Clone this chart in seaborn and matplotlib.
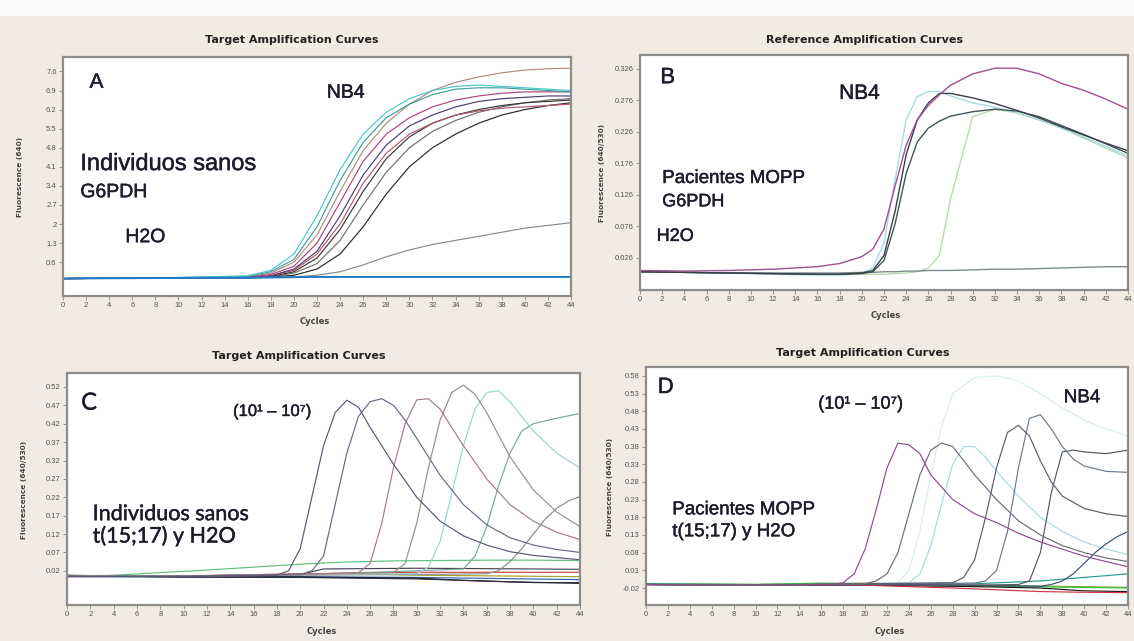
import numpy as np
import pandas as pd
import matplotlib.pyplot as plt
import matplotlib.patheffects as pe
from matplotlib.patches import Rectangle
import seaborn as sns

sns.set_style("ticks")
plt.rcParams['font.family'] = ['Liberation Sans', 'DejaVu Sans']

W, H = 1134, 641

# -----------------------------------------------------------------
# PANEL A  (Target, G6PDH, healthy individuals) - shared cycle grid
# -----------------------------------------------------------------
a_cyc = [0, 8, 16, 18, 20, 22, 24, 26, 28, 30, 32, 34, 36, 38, 40, 42, 44]
a_cyan = [0.0, 0.02, 0.1, 0.3, 0.9, 2.3, 4.0, 5.3, 6.1, 6.6, 6.9, 7.05, 7.1, 7.05, 7.0, 6.95, 6.9]
a_teal = [0.0, 0.02, 0.08, 0.25, 0.7, 1.9, 3.6, 5.0, 5.9, 6.4, 6.75, 6.95, 7.0, 7.0, 6.95, 6.9, 6.85]
a_tan = [0.0, 0.02, 0.06, 0.2, 0.6, 1.6, 3.2, 4.7, 5.7, 6.4, 6.9, 7.2, 7.4, 7.55, 7.65, 7.7, 7.72]
a_magenta = [0.0, 0.02, 0.05, 0.15, 0.45, 1.3, 2.8, 4.3, 5.3, 5.9, 6.3, 6.55, 6.7, 6.8, 6.85, 6.85, 6.85]
a_purple = [0.0, 0.02, 0.04, 0.1, 0.35, 1.0, 2.3, 3.8, 4.9, 5.6, 6.0, 6.3, 6.5, 6.6, 6.65, 6.7, 6.7]
a_red = [0.0, 0.02, 0.04, 0.1, 0.3, 0.9, 2.0, 3.5, 4.6, 5.3, 5.7, 6.0, 6.15, 6.25, 6.3, 6.35, 6.4]
a_black1 = [0.0, 0.02, 0.03, 0.08, 0.25, 0.75, 1.8, 3.2, 4.4, 5.2, 5.7, 6.0, 6.2, 6.35, 6.45, 6.5, 6.55]
a_gray = [0.0, 0.02, 0.03, 0.06, 0.2, 0.55, 1.4, 2.7, 3.9, 4.8, 5.4, 5.8, 6.1, 6.3, 6.45, 6.55, 6.6]
a_black2 = [0.0, 0.02, 0.03, 0.05, 0.12, 0.35, 0.9, 1.9, 3.1, 4.1, 4.8, 5.3, 5.7, 6.0, 6.2, 6.35, 6.45]
a_low = [0.0, 0.02, 0.03, 0.04, 0.06, 0.12, 0.25, 0.5, 0.8, 1.05, 1.25, 1.4, 1.55, 1.7, 1.85, 1.95, 2.05]
a_h2o = [0.0, 0.02, 0.03, 0.04, 0.05, 0.06, 0.06, 0.06, 0.06, 0.06, 0.06, 0.06, 0.06, 0.06, 0.06, 0.06, 0.06]
a_yticks = [0.6, 1.3, 2.0, 2.7, 3.4, 4.1, 4.8, 5.5, 6.2, 6.9, 7.6]
a_ylabels = ['0.6', '1.3', '2', '2.7', '3.4', '4.1', '4.8', '5.5', '6.2', '6.9', '7.6']

# -----------------------------------------------------------------
# PANEL B  (Reference, G6PDH, MOPP patients) - shared cycle grid
# -----------------------------------------------------------------
b_cyc = [0, 4, 8, 12, 16, 18, 20, 21, 22, 23, 24, 25, 26, 27, 28, 30, 32, 34, 36, 38, 40, 42, 44]
b_magenta = [0.006, 0.005, 0.006, 0.008, 0.012, 0.017, 0.028, 0.040, 0.072, 0.14, 0.205, 0.245, 0.268,
             0.285, 0.300, 0.318, 0.327, 0.327, 0.318, 0.303, 0.292, 0.278, 0.262]
b_dark1 = [0.004, 0.003, 0.002, 0.001, 0.0, 0.0, 0.002, 0.006, 0.03, 0.10, 0.19, 0.245, 0.272,
           0.287, 0.287, 0.280, 0.271, 0.260, 0.248, 0.234, 0.221, 0.208, 0.196]
b_dark2 = [0.004, 0.003, 0.002, 0.001, 0.0, 0.0, 0.001, 0.004, 0.022, 0.08, 0.16, 0.21, 0.232,
           0.243, 0.251, 0.258, 0.262, 0.259, 0.25, 0.236, 0.222, 0.207, 0.192]
b_cyan = [0.004, 0.003, 0.002, 0.0, -0.001, -0.001, 0.002, 0.01, 0.05, 0.15, 0.245, 0.282, 0.29,
          0.29, 0.283, 0.272, 0.265, 0.256, 0.245, 0.232, 0.218, 0.203, 0.188]
b_green = [0.004, 0.003, 0.002, 0.0, -0.001, -0.001, 0.0, 0.0, 0.0, 0.001, 0.002, 0.004, 0.01,
           0.03, 0.12, 0.25, 0.262, 0.256, 0.245, 0.232, 0.216, 0.2, 0.185]
b_h2o = [0.004, 0.003, 0.002, 0.002, 0.002, 0.002, 0.003, 0.003, 0.004, 0.004, 0.005, 0.005, 0.006,
         0.006, 0.006, 0.007, 0.008, 0.008, 0.009, 0.01, 0.011, 0.012, 0.012]
b_yticks = [0.026, 0.076, 0.126, 0.176, 0.226, 0.276, 0.326]
b_ylabels = ['0.026', '0.076', '0.126', '0.176', '0.226', '0.276', '0.326']

# -----------------------------------------------------------------
# PANEL C  (Target, t(15;17), healthy individuals) - own x per curve
# -----------------------------------------------------------------
c1_x = [0, 10, 18, 19, 20, 21, 22, 23, 24, 25, 26, 28, 30, 32, 34, 36, 38, 40, 42, 44]
c1_y = [0.005, 0.004, 0.008, 0.02, 0.08, 0.22, 0.36, 0.45, 0.484, 0.465, 0.41, 0.31, 0.22, 0.155,
        0.115, 0.09, 0.072, 0.062, 0.056, 0.05]
c2_x = [0, 10, 20, 21, 22, 23, 24, 25, 26, 27, 28, 29, 30, 32, 34, 36, 38, 40, 42, 44]
c2_y = [0.005, 0.006, 0.01, 0.02, 0.06, 0.2, 0.34, 0.44, 0.48, 0.488, 0.47, 0.43, 0.38, 0.28, 0.2,
        0.145, 0.11, 0.09, 0.078, 0.07]
c3_x = [0, 10, 20, 25, 26, 27, 28, 29, 30, 31, 32, 33, 34, 36, 38, 40, 42, 44]
c3_y = [0.005, 0.006, 0.01, 0.015, 0.04, 0.15, 0.3, 0.42, 0.485, 0.488, 0.46, 0.41, 0.36, 0.27, 0.2,
        0.155, 0.125, 0.105]
c4_x = [0, 10, 20, 28, 29, 30, 31, 32, 33, 34, 35, 36, 37, 38, 40, 42, 44]
c4_y = [0.005, 0.006, 0.01, 0.015, 0.04, 0.15, 0.3, 0.43, 0.505, 0.525, 0.5, 0.45, 0.39, 0.33, 0.24,
        0.18, 0.14]
c5_x = [0, 10, 20, 30, 31, 32, 33, 34, 35, 36, 37, 38, 39, 40, 42, 44]
c5_y = [0.005, 0.006, 0.01, 0.012, 0.03, 0.1, 0.23, 0.36, 0.46, 0.505, 0.51, 0.48, 0.44, 0.4, 0.34, 0.3]
c6_x = [0, 10, 20, 30, 34, 35, 36, 37, 38, 39, 40, 42, 44]
c6_y = [0.005, 0.006, 0.01, 0.02, 0.025, 0.06, 0.14, 0.25, 0.34, 0.4, 0.42, 0.435, 0.448]
c7_x = [0, 10, 20, 30, 36, 37, 38, 39, 40, 41, 42, 43, 44]
c7_y = [0.005, 0.005, 0.008, 0.01, 0.012, 0.02, 0.045, 0.08, 0.12, 0.16, 0.19, 0.21, 0.222]
c8_x = [0, 4, 8, 12, 16, 20, 24, 28, 32, 36, 40, 44]
c8_y = [0.005, 0.008, 0.015, 0.022, 0.03, 0.038, 0.044, 0.047, 0.048, 0.049, 0.049, 0.048]
c9_x = [0, 10, 20, 22, 30, 40, 44]
c9_y = [0.005, 0.005, 0.01, 0.025, 0.027, 0.025, 0.024]
c10_x = [0, 10, 20, 30, 44]
c10_y = [0.004, 0.006, 0.012, 0.016, 0.016]
c11_x = [0, 10, 20, 30, 36, 40, 44]
c11_y = [0.008, 0.003, 0.002, -0.002, -0.008, -0.012, -0.012]
c12_x = [0, 10, 20, 30, 34, 38, 44]
c12_y = [0.006, 0.004, 0.003, 0.0, -0.006, -0.01, -0.014]
c13_x = [0, 10, 20, 30, 44]
c13_y = [0.004, 0.003, 0.004, 0.002, -0.004]
c14_x = [0, 10, 18, 24, 30, 44]
c14_y = [0.005, 0.006, 0.01, 0.012, 0.008, 0.004]
c_yticks = [0.02, 0.07, 0.12, 0.17, 0.22, 0.27, 0.32, 0.37, 0.42, 0.47, 0.52]
c_ylabels = ['0.02', '0.07', '0.12', '0.17', '0.22', '0.27', '0.32', '0.37', '0.42', '0.47', '0.52']

# -----------------------------------------------------------------
# PANEL D  (Target, t(15;17), MOPP patients) - own x per curve
# -----------------------------------------------------------------
d1_x = [0, 10, 17, 18, 19, 20, 21, 22, 23, 24, 25, 26, 28, 30, 32, 34, 36, 38, 40, 42, 44]
d1_y = [-0.01, -0.012, -0.01, -0.005, 0.02, 0.09, 0.2, 0.32, 0.39, 0.385, 0.36, 0.3, 0.23, 0.19,
        0.165, 0.135, 0.11, 0.09, 0.07, 0.055, 0.04]
d2_x = [0, 10, 20, 21, 22, 23, 24, 25, 26, 27, 28, 29, 30, 32, 34, 36, 38, 40, 42, 44]
d2_y = [-0.01, -0.012, -0.008, 0.0, 0.02, 0.08, 0.19, 0.3, 0.37, 0.39, 0.38, 0.34, 0.3, 0.23, 0.17,
        0.13, 0.1, 0.08, 0.065, 0.055]
d3_x = [0, 10, 20, 24, 25, 26, 27, 28, 29, 30, 31, 32, 34, 36, 38, 40, 42, 44]
d3_y = [-0.01, -0.012, -0.008, -0.005, 0.02, 0.1, 0.22, 0.33, 0.38, 0.38, 0.35, 0.31, 0.24, 0.18,
        0.14, 0.11, 0.09, 0.075]
d4_x = [0, 10, 20, 28, 29, 30, 31, 32, 33, 34, 35, 36, 37, 38, 40, 42, 44]
d4_y = [-0.01, -0.012, -0.008, -0.005, 0.01, 0.06, 0.18, 0.32, 0.42, 0.44, 0.41, 0.34, 0.28, 0.24,
        0.205, 0.19, 0.182]
d5_x = [0, 10, 20, 30, 31, 32, 33, 34, 35, 36, 37, 38, 39, 40, 42, 44]
d5_y = [-0.01, -0.012, -0.008, -0.006, 0.0, 0.03, 0.14, 0.32, 0.46, 0.47, 0.43, 0.38, 0.345, 0.325,
        0.31, 0.307]
d6_x = [0, 10, 20, 30, 34, 35, 36, 37, 38, 39, 40, 42, 44]
d6_y = [-0.01, -0.012, -0.01, -0.012, -0.01, 0.0, 0.08, 0.25, 0.365, 0.37, 0.365, 0.36, 0.37]
d7_x = [0, 10, 20, 30, 36, 37, 38, 39, 40, 41, 42, 43, 44]
d7_y = [-0.01, -0.012, -0.01, -0.012, -0.015, -0.01, 0.0, 0.02, 0.05, 0.08, 0.105, 0.125, 0.14]
d8_x = [0, 10, 20, 23, 24, 25, 26, 27, 28, 30, 32, 34, 36, 38, 40, 42, 44]
d8_y = [-0.01, -0.012, -0.008, -0.005, 0.03, 0.14, 0.3, 0.44, 0.53, 0.575, 0.58, 0.565, 0.53, 0.49,
        0.455, 0.43, 0.41]
d10_x = [0, 10, 20, 30, 36, 40, 44]
d10_y = [-0.008, -0.01, -0.008, -0.008, 0.0, 0.01, 0.02]
d11_x = [0, 10, 20, 28, 32, 36, 40, 44]
d11_y = [-0.01, -0.011, -0.012, -0.02, -0.025, -0.03, -0.032, -0.033]
d12_x = [0, 10, 20, 30, 36, 40, 44]
d12_y = [-0.01, -0.012, -0.012, -0.016, -0.02, -0.028, -0.03]
d13_x = [0, 10, 16, 20, 24, 28, 32, 44]
d13_y = [-0.008, -0.01, -0.006, -0.008, -0.01, -0.012, -0.015, -0.02]
d14_x = [0, 10, 20, 30, 44]
d14_y = [-0.009, -0.01, -0.006, -0.012, -0.018]
d_yticks = [-0.02, 0.03, 0.08, 0.13, 0.18, 0.23, 0.28, 0.33, 0.38, 0.43, 0.48, 0.53, 0.58]
d_ylabels = ['-0.02', '0.03', '0.08', '0.13', '0.18', '0.23', '0.28', '0.33', '0.38', '0.43', '0.48',
             '0.53', '0.58']

x_ticks = list(range(0, 45, 2))


# -----------------------------------------------------------------
# helpers
# -----------------------------------------------------------------
def fx(px):
    return px / W


def fy(py):
    return 1 - py / H


def add_ax(left, top, right, bottom):
    return fig.add_axes([fx(left), fy(bottom), (right - left) / W, (bottom - top) / H])


def draw_curves(ax, curves, colors, lw=0.85):
    df = pd.concat([pd.DataFrame({'cycle': x, 'fl': y, 'curve': name})
                    for name, (x, y) in curves.items()], ignore_index=True)
    sns.lineplot(data=df, x='cycle', y='fl', hue='curve', palette=colors, estimator=None,
                 sort=False, legend=False, lw=lw, ax=ax)


def style_ax(ax, ylim, yticks, ylabels):
    ax.set_facecolor('white')
    ax.set_xlim(0, 44)
    ax.set_ylim(*ylim)
    ax.set_xticks(x_ticks)
    ax.set_xticklabels([str(t) for t in x_ticks])
    ax.set_yticks(yticks)
    ax.set_yticklabels(ylabels)
    ax.tick_params(length=3, width=0.6, color='#8a8a8a', labelsize=5.5, labelcolor='#555555', pad=1.5)
    for s in ax.spines.values():
        s.set_color('#8c8c8c')
        s.set_linewidth(1.6)
    ax.set_xlabel('')
    ax.set_ylabel('')


def frame_text(x, y, s, **kw):
    fig.text(fx(x), fy(y), s, ha='center', va='center', **kw)


fig = plt.figure(figsize=(W / 100, H / 100), dpi=100)
fig.patch.set_facecolor('#f2ebe4')
fig.add_artist(Rectangle((0, fy(15)), 1, 15 / H, transform=fig.transFigure,
                         color='#fbfaf8', zorder=0))

# scanned labels look a touch heavier than plain regular weight
thick = [pe.withStroke(linewidth=0.3, foreground='#1c1c2c')]
title_kw = dict(fontsize=8, fontweight='bold', color='#222222', family=['DejaVu Sans'])
cyc_kw = dict(fontsize=6, fontweight='bold', color='#444444', family=['DejaVu Sans'])
ylab_kw = dict(fontsize=5.3, fontweight='bold', color='#444444', rotation=90, family=['DejaVu Sans'])
ann = dict(color='#1c1c2c', family=['Liberation Sans', 'DejaVu Sans'], path_effects=thick)
ann_c = dict(color='#1c1c2c', family=['Lato', 'DejaVu Sans'], path_effects=thick)

# ---------------- A ----------------
axA = add_ax(63, 57, 571, 296)
draw_curves(axA, {
    'tan': (a_cyc, a_tan), 'gray': (a_cyc, a_gray), 'black2': (a_cyc, a_black2),
    'black1': (a_cyc, a_black1), 'red': (a_cyc, a_red), 'purple': (a_cyc, a_purple),
    'magenta': (a_cyc, a_magenta), 'teal': (a_cyc, a_teal), 'cyan': (a_cyc, a_cyan),
    'low': (a_cyc, a_low),
}, {'tan': '#b48a7c', 'gray': '#707070', 'black2': '#2a2a2a', 'black1': '#383838',
    'red': '#b8566a', 'purple': '#4d3d6e', 'magenta': '#b0407c', 'teal': '#3f9fa0',
    'cyan': '#45c8cc', 'low': '#8a8a90'})
draw_curves(axA, {'h2o': (a_cyc, a_h2o)}, {'h2o': '#1f7ac8'}, lw=1.4)
style_ax(axA, (-0.64, 8.13), a_yticks, a_ylabels)
axA.text(2.9, 7.2, 'A', fontsize=15, ha='center', va='center', **ann)
axA.text(24.5, 6.8, 'NB4', fontsize=14, ha='center', va='center', **ann)
axA.text(1.5, 4.2, 'Individuos sanos', fontsize=17, ha='left', va='center', **ann)
axA.text(1.5, 3.15, 'G6PDH', fontsize=14, ha='left', va='center', **ann)
axA.text(5.4, 1.5, 'H2O', fontsize=14, ha='left', va='center', **ann)
frame_text(292, 40, 'Target Amplification Curves', **title_kw)
frame_text(315, 322, 'Cycles', **cyc_kw)
frame_text(20, 177, 'Fluorescence (640)', **ylab_kw)

# ---------------- B ----------------
axB = add_ax(640, 55, 1128, 290)
draw_curves(axB, {
    'green': (b_cyc, b_green), 'cyan': (b_cyc, b_cyan), 'h2o': (b_cyc, b_h2o),
    'dark2': (b_cyc, b_dark2), 'dark1': (b_cyc, b_dark1), 'magenta': (b_cyc, b_magenta),
}, {'green': '#b9dbb2', 'cyan': '#a6dde0', 'h2o': '#7d8a8a', 'dark2': '#405656',
    'dark1': '#3a4048', 'magenta': '#a0508e'}, lw=1.0)
style_ax(axB, (-0.025, 0.348), b_yticks, b_ylabels)
axB.text(2.5, 0.312, 'B', fontsize=16, ha='center', va='center', **ann)
axB.text(19.8, 0.287, 'NB4', fontsize=15, ha='center', va='center', **ann)
axB.text(2.0, 0.152, 'Pacientes MOPP', fontsize=13.5, ha='left', va='center', **ann)
axB.text(2.0, 0.115, 'G6PDH', fontsize=13, ha='left', va='center', **ann)
axB.text(1.5, 0.06, 'H2O', fontsize=13, ha='left', va='center', **ann)
frame_text(864, 40, 'Reference Amplification Curves', **title_kw)
frame_text(886, 315, 'Cycles', **cyc_kw)
frame_text(602, 173, 'Fluorescence (640/530)', **ylab_kw)

# ---------------- C ----------------
axC = add_ax(67, 373, 580, 605)
draw_curves(axC, {
    'c14': (c14_x, c14_y), 'c13': (c13_x, c13_y), 'c12': (c12_x, c12_y), 'c11': (c11_x, c11_y),
    'c10': (c10_x, c10_y), 'c9': (c9_x, c9_y), 'c8': (c8_x, c8_y), 'c7': (c7_x, c7_y),
    'c6': (c6_x, c6_y), 'c5': (c5_x, c5_y), 'c4': (c4_x, c4_y), 'c3': (c3_x, c3_y),
    'c2': (c2_x, c2_y), 'c1': (c1_x, c1_y),
}, {'c14': '#a6a232', 'c13': '#3262b4', 'c12': '#151515', 'c11': '#2c2c40', 'c10': '#c24444',
    'c9': '#454556', 'c8': '#5cc27c', 'c7': '#8c8c8c', 'c6': '#7ea2a2', 'c5': '#9cd2d0',
    'c4': '#9c8e84', 'c3': '#a47c8c', 'c2': '#6e6886', 'c1': '#5c5670'})
style_ax(axC, (-0.073, 0.558), c_yticks, c_ylabels)
axC.text(1.9, 0.476, 'C', fontsize=17, ha='center', va='center', **ann_c)
axC.text(17.6, 0.454, '(10¹ – 10⁷)', fontsize=12, ha='center', va='center', **ann)
axC.text(2.2, 0.174, 'Individuos sanos', fontsize=15.5, ha='left', va='center', **ann_c)
axC.text(2.2, 0.114, 't(15;17) y H2O', fontsize=15.5, ha='left', va='center', **ann_c)
frame_text(299, 356, 'Target Amplification Curves', **title_kw)
frame_text(322, 632, 'Cycles', **cyc_kw)
frame_text(24, 490, 'Fluorescence (640/530)', **ylab_kw)

# ---------------- D ----------------
axD = add_ax(646, 367, 1128, 605)
draw_curves(axD, {
    'd8': (d8_x, d8_y), 'd3': (d3_x, d3_y), 'd14': (d14_x, d14_y), 'd13': (d13_x, d13_y),
    'd12': (d12_x, d12_y), 'd11': (d11_x, d11_y), 'd10': (d10_x, d10_y), 'd7': (d7_x, d7_y),
    'd6': (d6_x, d6_y), 'd5': (d5_x, d5_y), 'd4': (d4_x, d4_y), 'd2': (d2_x, d2_y),
    'd1': (d1_x, d1_y),
}, {'d8': '#d6eef0', 'd3': '#a9d9e0', 'd14': '#8c9c32', 'd13': '#34c234', 'd12': '#1a1a1a',
    'd11': '#d23242', 'd10': '#2a9c8c', 'd7': '#3c4c7c', 'd6': '#56566a', 'd5': '#6a7a8a',
    'd4': '#5c5c6c', 'd2': '#6c6c7c', 'd1': '#8c4c8c'})
style_ax(axD, (-0.068, 0.605), d_yticks, d_ylabels)
axD.text(1.8, 0.547, 'D', fontsize=16, ha='center', va='center', **ann)
axD.text(19.6, 0.50, '(10¹ – 10⁷)', fontsize=13, ha='center', va='center', **ann)
axD.text(39.8, 0.518, 'NB4', fontsize=13.5, ha='center', va='center', **ann)
axD.text(2.4, 0.201, 'Pacientes MOPP', fontsize=13.5, ha='left', va='center', **ann)
axD.text(2.4, 0.139, 't(15;17) y H2O', fontsize=13.5, ha='left', va='center', **ann)
frame_text(863, 353, 'Target Amplification Curves', **title_kw)
frame_text(890, 632, 'Cycles', **cyc_kw)
frame_text(610, 487, 'Fluorescence (640/530)', **ylab_kw)

fig.savefig('out.png', dpi=100, facecolor=fig.get_facecolor())
